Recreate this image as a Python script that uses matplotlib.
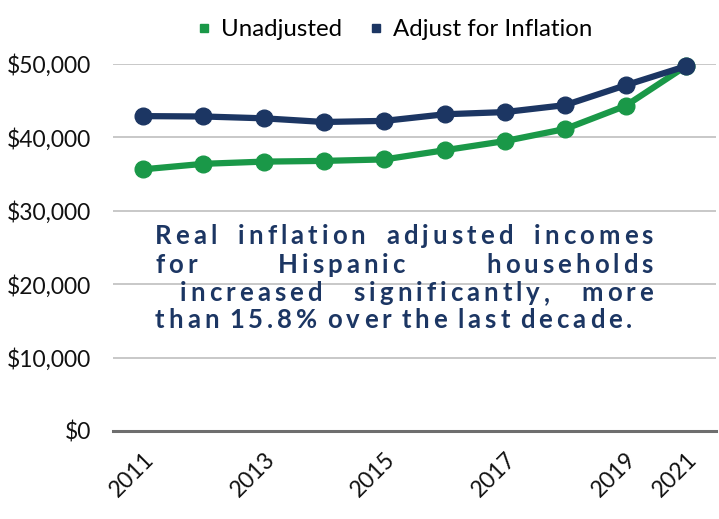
import matplotlib
matplotlib.use("Agg")
import matplotlib.pyplot as plt
from matplotlib.lines import Line2D

years = ["2011", "2012", "2013", "2014", "2015", "2016", "2017", "2018", "2019", "2021"]
unadjusted = [35650, 36400, 36700, 36800, 37000, 38250, 39500, 41150, 44300, 49700]
adjusted = [42900, 42850, 42600, 42100, 42250, 43150, 43450, 44400, 47100, 49700]
shown_years = ["2011", "2013", "2015", "2017", "2019", "2021"]
y_ticks = [0, 10000, 20000, 30000, 40000, 50000]
note_lines = [
    "Real inflation adjusted incomes",
    "for Hispanic households",
    "increased significantly, more",
    "than 15.8% over the last decade.",
]

green = "#1A9848"
navy = "#1C3663"
W, H = 719, 519

plt.rcParams["font.family"] = ["Lato", "DejaVu Sans"]

fig = plt.figure(figsize=(W / 100, H / 100), dpi=100)
ax = fig.add_axes([113 / W, 1 - 431 / H, (716 - 113) / W, (431 - 64) / H])

x = list(range(len(years)))
ax.plot(x, unadjusted, color=green, lw=4.5, marker="o", ms=12, clip_on=False, zorder=3)
ax.plot(x, adjusted, color=navy, lw=4.5, marker="o", ms=12, clip_on=False, zorder=4)

ax.set_xlim(-0.5, len(years) - 0.5)
ax.set_ylim(0, 50000)
ax.set_yticks(y_ticks)
ax.set_yticklabels(["${:,}".format(v) for v in y_ticks], fontsize=16.5, color="#111111")
tick_pos = [years.index(y) for y in shown_years]
ax.set_xticks(tick_pos)
ax.set_xticklabels(shown_years, rotation=45, ha="right", rotation_mode="anchor",
                   fontsize=16.5, color="#111111")
ax.tick_params(axis="both", length=0)
ax.tick_params(axis="y", pad=16)
ax.tick_params(axis="x", pad=13)
ax.grid(axis="y", color="#BFBFBF", lw=1.2)
ax.set_axisbelow(True)
for s in ["top", "right", "left"]:
    ax.spines[s].set_visible(False)
ax.spines["bottom"].set_color("#6E6E6E")
ax.spines["bottom"].set_linewidth(2.2)

handles = [Line2D([], [], ls="none", marker="s", ms=6, color=green),
           Line2D([], [], ls="none", marker="s", ms=6, color=navy)]
fig.legend(handles, ["Unadjusted", "Adjust for Inflation"], loc="center",
           bbox_to_anchor=(395 / W, 1 - 30 / H), ncol=2, frameon=False,
           fontsize=17.3, handlelength=0.5, handletextpad=0.45, columnspacing=1.15)

# justified, letter-spaced annotation
renderer = fig.canvas.get_renderer()
note_size = 18.5
tracking = 4.0
cache = {}


def text_width(s):
    t = fig.text(0, 0, s, fontsize=note_size, fontweight="bold")
    w = t.get_window_extent(renderer).width
    t.remove()
    return w


def char_width(c):
    if c not in cache:
        cache[c] = text_width("|" + c + "|") - text_width("||")
    return cache[c]


def word_width(w):
    return sum(char_width(c) for c in w) + tracking * (len(w) - 1)


def draw_word(word, x0, y):
    xc = x0
    for c in word:
        fig.text(xc / W, 1 - y / H, c, fontsize=note_size, fontweight="bold",
                 color=navy, ha="left", va="baseline")
        xc += char_width(c) + tracking


left, right = 155, 653
baselines = [244, 273, 301, 328]
starts = [left, left, 180, left]
for i, line in enumerate(note_lines):
    words = line.split()
    widths = [word_width(w) for w in words]
    if i < len(note_lines) - 1:
        gap = (right - starts[i] - sum(widths)) / (len(words) - 1)
    else:
        gap = char_width(" ") + tracking
    xc = starts[i]
    for w, ww in zip(words, widths):
        draw_word(w, xc, baselines[i])
        xc += ww + gap

fig.savefig("out.png", dpi=100)
